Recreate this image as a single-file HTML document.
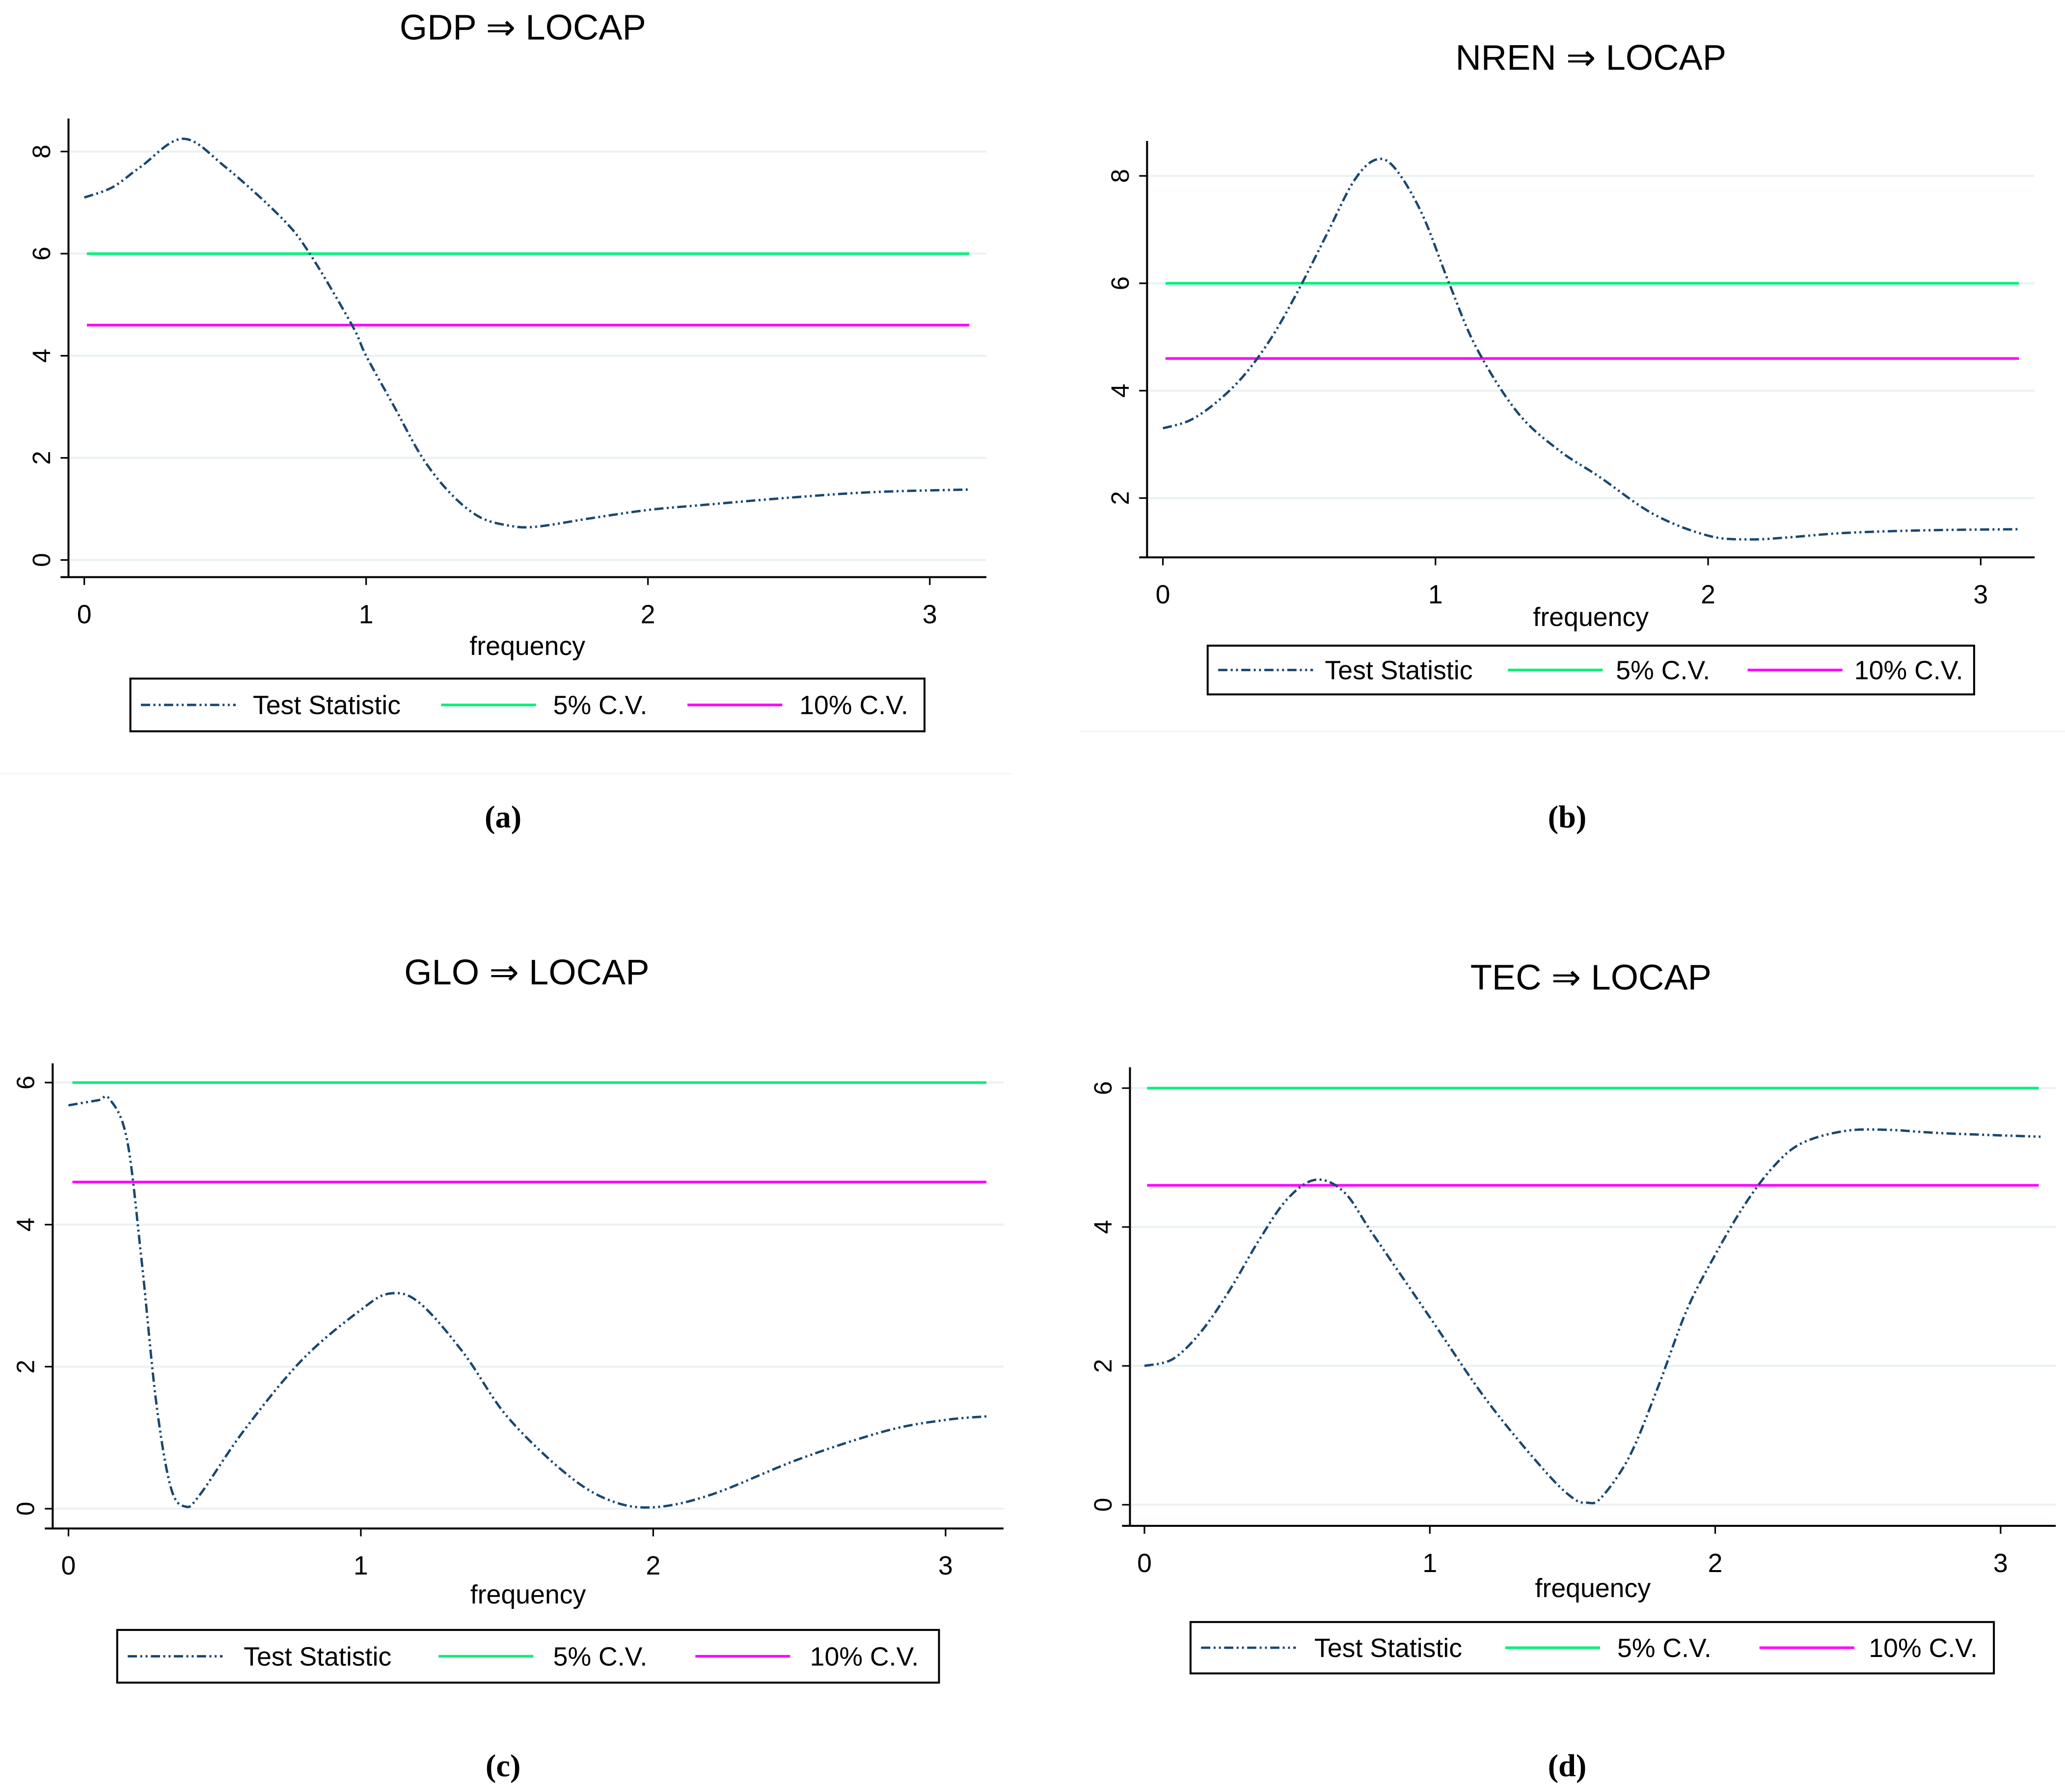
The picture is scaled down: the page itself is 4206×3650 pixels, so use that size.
<!DOCTYPE html>
<html><head><meta charset="utf-8"><style>
html,body{margin:0;padding:0;background:#fff}
svg{display:block}
text{font-family:"Liberation Sans",sans-serif;fill:#000}
.cap{font-family:"Liberation Serif",serif;font-weight:bold}
</style></head><body>
<svg id="fig" width="4206" height="3650" viewBox="0 0 1568 1360" preserveAspectRatio="none" xmlns="http://www.w3.org/2000/svg"></svg>
<script>
// ---- data ----
const xTicks = [0,1,2,3];
const cvLabels = ["Test Statistic","5% C.V.","10% C.V."];
const cv5 = 6, cv10 = 4.6;
const titles = ["GDP \u21D2 LOCAP","NREN \u21D2 LOCAP","GLO \u21D2 LOCAP","TEC \u21D2 LOCAP"];
const captions = ["(a)","(b)","(c)","(d)"];
const yTicksA = [0,2,4,6,8];
const yTicksB = [2,4,6,8];
const yTicksC = [0,2,4,6];
const yTicksD = [0,2,4,6];
const freqA = [0,0.1,0.2,0.35,0.5,0.7,0.8,0.95,1.0,1.1,1.2,1.3,1.4,1.5,1.6,1.8,2.0,2.2,2.5,2.8,3.14];
const statA = [7.1,7.3,7.7,8.25,7.7,6.7,6.0,4.6,4.0,3.0,2.0,1.3,0.85,0.68,0.65,0.82,0.98,1.08,1.22,1.33,1.38];
const freqB = [0,0.1,0.2,0.3,0.4,0.5,0.6,0.7,0.78,0.85,0.95,1.05,1.15,1.3,1.45,1.6,1.8,2.0,2.15,2.3,2.5,2.8,3.14];
const statB = [3.3,3.45,3.8,4.3,5.0,5.9,6.9,7.9,8.3,8.15,7.3,6.0,4.8,3.6,2.9,2.4,1.7,1.3,1.23,1.27,1.35,1.4,1.42];
const freqC = [0,0.1,0.14,0.2,0.25,0.3,0.35,0.4,0.45,0.6,0.8,1.0,1.1,1.2,1.35,1.5,1.7,1.85,2.0,2.2,2.5,2.8,3.0,3.14];
const statC = [5.68,5.75,5.77,5.2,3.5,1.5,0.3,0.03,0.2,1.1,2.1,2.8,3.03,2.9,2.2,1.3,0.5,0.12,0.02,0.2,0.7,1.1,1.25,1.3];
const freqD = [0,0.1,0.2,0.3,0.4,0.5,0.6,0.7,0.8,1.0,1.2,1.4,1.5,1.55,1.6,1.7,1.8,1.9,2.0,2.1,2.2,2.3,2.45,2.6,2.8,3.14];
const statD = [2.0,2.1,2.5,3.1,3.8,4.4,4.68,4.5,3.9,2.7,1.5,0.5,0.1,0.03,0.1,0.7,1.7,2.8,3.6,4.3,4.85,5.2,5.38,5.4,5.35,5.3];

// ---- layout (thumbnail units) ----
const panels = [
 {id:'a',yTicks:yTicksA,fx:freqA,fy:statA,ax:52,top:90,bot:438,right:749,x0:64,xu:214,y0v:0,y0:425,yu:38.75,ll:66,lr:736,tx:397,ty:30,fy2:497,
  leg:[99,515,702,555],items:[107,192,335,420,522,607],sep:[0,587,768],cap:[382,628],grid:true},
 {id:'b',yTicks:yTicksB,fx:freqB,fy:statB,ax:871,top:107,bot:423,right:1545,x0:883,xu:207,y0v:2,y0:378,yu:40.75,ll:885,lr:1533,tx:1208,ty:53,fy2:475,
  leg:[917,490,1499,527],items:[925,1006,1145,1227,1327,1408],sep:[820,555,1568],cap:[1190,628]},
 {id:'c',yTicks:yTicksC,fx:freqC,fy:statC,ax:40,top:807,bot:1160,right:762,x0:52,xu:222,y0v:0,y0:1145,yu:53.9,ll:55,lr:749,tx:400,ty:747,fy2:1217,
  leg:[89,1237,713,1277],items:[97,185,333,420,528,615],cap:[382,1348]},
 {id:'d',yTicks:yTicksD,fx:freqD,fy:statD,ax:858,top:810,bot:1158,right:1561,x0:869,xu:216.7,y0v:0,y0:1142,yu:52.7,ll:871,lr:1548,tx:1208,ty:751,fy2:1212,
  leg:[904,1231,1514,1270],items:[912,998,1143,1228,1336,1419],cap:[1190,1348]}
];
const NS='http://www.w3.org/2000/svg';
const svg=document.getElementById('fig');
function mk(tag,attrs,parent,text){const e=document.createElementNS(NS,tag);for(const k in attrs)e.setAttribute(k,attrs[k]);if(text!==undefined)e.textContent=text;(parent||svg).appendChild(e);return e;}

panels.forEach((p,i)=>{
  const g=mk('g',{});
  
  
  const X=v=>p.x0+v*p.xu;
  const Y=v=>p.y0-(v-p.y0v)*p.yu;
  const t=mk('text',{x:p.tx,y:p.ty,'font-size':27,'text-anchor':'middle'},g,titles[i]);
  
  
  // grid + y ticks
  p.yTicks.forEach(v=>{
    const gl=mk('line',{x1:p.ax,x2:p.right,y1:Y(v),y2:Y(v),stroke:'#eaf2f3','stroke-width':1.6},g);
    
    
    mk('line',{x1:p.ax-6,x2:p.ax,y1:Y(v),y2:Y(v),stroke:'#000','stroke-width':1.2},g);
    const tl=mk('text',{x:0,y:0,'font-size':19,'text-anchor':'middle',transform:`translate(${p.ax-14},${Y(v)}) rotate(-90)`},g,String(v));
    
    
  });
  // axes
  const ya=mk('line',{x1:p.ax,x2:p.ax,y1:p.top,y2:p.bot,stroke:'#000','stroke-width':1.5},g);
  
  
  const xa=mk('line',{x1:p.ax-6,x2:p.right,y1:p.bot,y2:p.bot,stroke:'#000','stroke-width':1.5},g);
  
  
  xTicks.forEach(v=>{
    mk('line',{x1:X(v),x2:X(v),y1:p.bot,y2:p.bot+6,stroke:'#000','stroke-width':1.2},g);
    const tl=mk('text',{x:X(v),y:p.bot+35,'font-size':20,'text-anchor':'middle'},g,String(v));
    
    
  });
  const xt=mk('text',{x:(p.ax+p.right)/2,y:p.fy2,'font-size':20,'text-anchor':'middle'},g,'frequency');
  
  
  // CV lines
  const c5=mk('line',{x1:p.ll,x2:p.lr,y1:Y(cv5),y2:Y(cv5),stroke:'#00f07a','stroke-width':2},g);
  
  
  const c10=mk('line',{x1:p.ll,x2:p.lr,y1:Y(cv10),y2:Y(cv10),stroke:'#ff00ff','stroke-width':2},g);
  
  
  // curve (catmull-rom)
  const pts=p.fx.map((f,k)=>[X(f),Y(p.fy[k])]);
  let d='M'+pts[0][0]+','+pts[0][1];
  for(let k=0;k<pts.length-1;k++){
    const p0=pts[Math.max(0,k-1)],p1=pts[k],p2=pts[k+1],p3=pts[Math.min(pts.length-1,k+2)];
    const c1=[p1[0]+(p2[0]-p0[0])/6,p1[1]+(p2[1]-p0[1])/6];
    const c2=[p2[0]-(p3[0]-p1[0])/6,p2[1]-(p3[1]-p1[1])/6];
    d+=`C${c1[0]},${c1[1]} ${c2[0]},${c2[1]} ${p2[0]},${p2[1]}`;
  }
  const cur=mk('path',{d:d,fill:'none',stroke:'#1a476f','stroke-width':1.8,'stroke-dasharray':'7,2.5,1.5,2.5,1.5,2.5'},g);
  
  
  // legend
  const L=p.leg;
  const lg=mk('g',{},g);
  
  
  mk('rect',{x:L[0],y:L[1],width:L[2]-L[0],height:L[3]-L[1],fill:'#fff',stroke:'#000','stroke-width':1.5},lg);
  const ly=(L[1]+L[3])/2;
  const styles=[{stroke:'#1a476f','stroke-dasharray':'7,2.5,1.5,2.5,1.5,2.5','stroke-width':1.8},{stroke:'#00f07a','stroke-width':2},{stroke:'#ff00ff','stroke-width':2}];
  for(let k=0;k<3;k++){
    const sx=p.items[k*2], tx=p.items[k*2+1];
    const sw=mk('line',Object.assign({x1:sx,x2:sx+72,y1:ly,y2:ly},styles[k]),lg);
    
    
    const lt=mk('text',{x:tx,y:ly+7,'font-size':20},lg,cvLabels[k]);
    
    
  }
  if(p.sep){mk('line',{x1:p.sep[0],x2:p.sep[2],y1:p.sep[1],y2:p.sep[1],stroke:'#f2f4f4','stroke-width':1},g);}
  const cp=mk('text',{x:p.cap[0],y:p.cap[1],'font-size':24,'text-anchor':'middle',class:'cap'},g,captions[i]);
  
  
});
</script>
</body></html>
